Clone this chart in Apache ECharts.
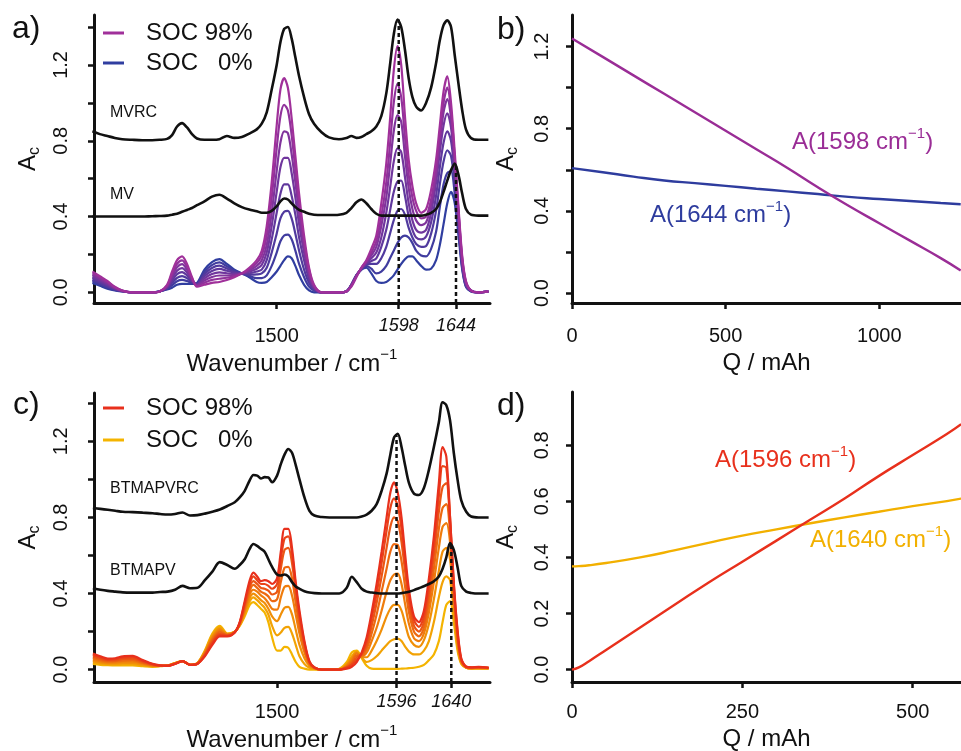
<!DOCTYPE html>
<html>
<head>
<meta charset="utf-8">
<script src="https://cdn.jsdelivr.net/npm/echarts@6.0.0/dist/echarts.min.js"></script>
<style>
  html, body { margin: 0; padding: 0; background: #fff; }
  #chart { width: 961px; height: 751px; }
</style>
</head>
<body>
<div id="chart"></div>
<script>
// ---- panel a) : MV spectra ----
const WN_A = [1352, 1358, 1364, 1370, 1376, 1384, 1392, 1400, 1406, 1412, 1416, 1420, 1424, 1428, 1432, 1436, 1442, 1448, 1454, 1460,
  1466, 1472, 1478, 1484, 1488, 1492, 1496, 1500, 1503, 1506, 1509, 1512, 1515, 1518, 1522, 1526, 1530, 1536, 1542, 1550,
  1556, 1560, 1564, 1568, 1572, 1576, 1580, 1584, 1588, 1591, 1594, 1597, 1600, 1603, 1606, 1609, 1612, 1616, 1620, 1624,
  1628, 1631, 1634, 1637, 1640, 1643, 1646, 1649, 1652, 1656, 1662, 1670];
const MVRC = [0.85, 0.835, 0.825, 0.815, 0.808, 0.805, 0.803, 0.803, 0.805, 0.81, 0.83, 0.875, 0.893, 0.87, 0.835, 0.812, 0.805, 0.805, 0.808, 0.825,
  0.815, 0.82, 0.838, 0.86, 0.89, 0.95, 1.07, 1.20, 1.32, 1.39, 1.40, 1.34, 1.24, 1.14, 1.03, 0.94, 0.89, 0.845, 0.818, 0.808,
  0.815, 0.825, 0.815, 0.82, 0.835, 0.85, 0.875, 0.93, 1.05, 1.20, 1.36, 1.44, 1.40, 1.28, 1.13, 1.03, 0.98, 0.96, 1.00, 1.08,
  1.21, 1.33, 1.41, 1.435, 1.40, 1.25, 1.10, 0.96, 0.86, 0.815, 0.805, 0.805];
const MV = [0.40, 0.40, 0.40, 0.40, 0.40, 0.40, 0.40, 0.402, 0.403, 0.405, 0.41, 0.415, 0.425, 0.435, 0.445, 0.46, 0.48, 0.505, 0.515, 0.495,
  0.47, 0.45, 0.437, 0.428, 0.42, 0.42, 0.43, 0.455, 0.48, 0.495, 0.49, 0.47, 0.45, 0.435, 0.425, 0.415, 0.41, 0.408, 0.408, 0.41,
  0.42, 0.445, 0.475, 0.49, 0.47, 0.44, 0.415, 0.405, 0.405, 0.405, 0.405, 0.405, 0.405, 0.405, 0.405, 0.405, 0.405, 0.405, 0.41, 0.42,
  0.44, 0.475, 0.53, 0.59, 0.645, 0.68, 0.62, 0.52, 0.44, 0.41, 0.405, 0.405];
// SOC 98% -> SOC 0%
const SPEC_A = [
  [0.11, 0.085, 0.06, 0.03, 0.01, 0, 0, 0, 0.005, 0.04, 0.11, 0.17, 0.19, 0.15, 0.08, 0.03, 0.04, 0.05, 0.055, 0.065,
   0.08, 0.10, 0.13, 0.17, 0.22, 0.35, 0.58, 0.88, 1.07, 1.13, 1.08, 0.92, 0.72, 0.52, 0.30, 0.13, 0.04, 0, 0, 0,
   0.005, 0.03, 0.08, 0.13, 0.17, 0.23, 0.30, 0.47, 0.68, 0.91, 1.17, 1.30, 1.20, 0.93, 0.70, 0.56, 0.47, 0.42, 0.44, 0.54,
   0.70, 0.88, 1.06, 1.14, 1.00, 0.74, 0.45, 0.19, 0.06, 0.01, 0, 0.005],
  [0.101, 0.078, 0.054, 0.027, 0.009, 0, 0, 0, 0.005, 0.036, 0.098, 0.151, 0.169, 0.135, 0.075, 0.033, 0.051, 0.066, 0.072, 0.077,
   0.086, 0.10, 0.123, 0.155, 0.195, 0.30, 0.50, 0.76, 0.93, 0.99, 0.96, 0.83, 0.65, 0.47, 0.27, 0.12, 0.035, 0, 0, 0,
   0.005, 0.035, 0.085, 0.13, 0.165, 0.21, 0.27, 0.40, 0.58, 0.78, 1.00, 1.10, 1.03, 0.82, 0.62, 0.50, 0.43, 0.39, 0.40, 0.49,
   0.65, 0.83, 1.00, 1.08, 0.96, 0.71, 0.43, 0.18, 0.055, 0.01, 0, 0.005],
  [0.093, 0.071, 0.049, 0.024, 0.008, 0, 0, 0, 0.005, 0.033, 0.086, 0.133, 0.149, 0.12, 0.07, 0.036, 0.063, 0.081, 0.089, 0.089,
   0.091, 0.10, 0.116, 0.14, 0.17, 0.25, 0.42, 0.64, 0.79, 0.85, 0.84, 0.73, 0.58, 0.42, 0.24, 0.10, 0.03, 0, 0, 0,
   0.005, 0.035, 0.085, 0.128, 0.16, 0.195, 0.24, 0.35, 0.50, 0.67, 0.85, 0.935, 0.90, 0.72, 0.55, 0.44, 0.38, 0.355, 0.37, 0.46,
   0.62, 0.79, 0.95, 1.02, 0.92, 0.69, 0.42, 0.17, 0.05, 0.01, 0, 0.005],
  [0.084, 0.064, 0.043, 0.021, 0.008, 0, 0, 0, 0.005, 0.029, 0.074, 0.114, 0.128, 0.105, 0.065, 0.039, 0.074, 0.097, 0.106, 0.101,
   0.097, 0.10, 0.109, 0.125, 0.145, 0.21, 0.35, 0.53, 0.66, 0.71, 0.71, 0.63, 0.50, 0.36, 0.21, 0.09, 0.025, 0, 0, 0,
   0.005, 0.04, 0.09, 0.125, 0.155, 0.18, 0.21, 0.29, 0.42, 0.55, 0.69, 0.76, 0.74, 0.61, 0.47, 0.38, 0.33, 0.315, 0.33, 0.42,
   0.58, 0.74, 0.88, 0.945, 0.87, 0.66, 0.40, 0.16, 0.045, 0.01, 0, 0.005],
  [0.076, 0.056, 0.037, 0.019, 0.007, 0, 0, 0, 0.005, 0.026, 0.061, 0.096, 0.107, 0.09, 0.06, 0.041, 0.086, 0.113, 0.124, 0.114,
   0.103, 0.10, 0.101, 0.11, 0.12, 0.17, 0.28, 0.42, 0.52, 0.57, 0.57, 0.51, 0.41, 0.29, 0.17, 0.07, 0.02, 0, 0, 0,
   0.005, 0.04, 0.09, 0.125, 0.15, 0.165, 0.18, 0.24, 0.33, 0.43, 0.53, 0.585, 0.59, 0.51, 0.40, 0.33, 0.29, 0.28, 0.295, 0.37,
   0.51, 0.66, 0.79, 0.85, 0.80, 0.62, 0.38, 0.15, 0.04, 0.008, 0, 0.005],
  [0.067, 0.049, 0.031, 0.016, 0.006, 0, 0, 0, 0.005, 0.022, 0.049, 0.077, 0.086, 0.075, 0.055, 0.044, 0.097, 0.129, 0.141, 0.126,
   0.109, 0.10, 0.094, 0.095, 0.10, 0.13, 0.21, 0.31, 0.39, 0.425, 0.43, 0.39, 0.31, 0.22, 0.12, 0.05, 0.015, 0, 0, 0,
   0.005, 0.04, 0.09, 0.122, 0.145, 0.15, 0.15, 0.18, 0.24, 0.31, 0.38, 0.43, 0.44, 0.41, 0.34, 0.29, 0.255, 0.24, 0.245, 0.31,
   0.43, 0.57, 0.69, 0.75, 0.72, 0.57, 0.35, 0.14, 0.035, 0.007, 0, 0.005],
  [0.059, 0.042, 0.026, 0.013, 0.006, 0, 0, 0, 0.005, 0.019, 0.037, 0.059, 0.066, 0.06, 0.05, 0.047, 0.109, 0.144, 0.158, 0.138,
   0.114, 0.10, 0.087, 0.075, 0.075, 0.09, 0.14, 0.21, 0.27, 0.30, 0.305, 0.28, 0.22, 0.15, 0.08, 0.03, 0.01, 0, 0, 0,
   0.005, 0.04, 0.09, 0.12, 0.14, 0.125, 0.10, 0.11, 0.14, 0.18, 0.22, 0.26, 0.29, 0.30, 0.29, 0.26, 0.22, 0.195, 0.19, 0.23,
   0.32, 0.45, 0.57, 0.63, 0.64, 0.52, 0.33, 0.13, 0.03, 0.006, 0, 0.005],
  [0.05, 0.035, 0.02, 0.01, 0.005, 0, 0, 0, 0.005, 0.015, 0.025, 0.04, 0.045, 0.045, 0.045, 0.05, 0.12, 0.16, 0.175, 0.15,
   0.12, 0.10, 0.08, 0.055, 0.05, 0.055, 0.08, 0.11, 0.14, 0.17, 0.19, 0.18, 0.14, 0.09, 0.04, 0.01, 0, 0, 0, 0,
   0.005, 0.04, 0.09, 0.12, 0.13, 0.10, 0.06, 0.05, 0.055, 0.07, 0.09, 0.12, 0.15, 0.175, 0.19, 0.19, 0.17, 0.14, 0.12, 0.125,
   0.17, 0.25, 0.36, 0.47, 0.53, 0.47, 0.30, 0.12, 0.03, 0.005, 0, 0.005]
];
const MARKS_A = [1598, 1644];
const MARK_TOPS_A = [1.44, 0.68];

// ---- panel c) : BTMAPV spectra ----
const WN_C = [1352, 1358, 1364, 1370, 1376, 1384, 1392, 1400, 1406, 1412, 1418, 1424, 1430, 1436, 1442, 1448, 1454, 1460, 1466, 1470,
  1474, 1478, 1481, 1484, 1487, 1490, 1493, 1496, 1500, 1503, 1506, 1509, 1512, 1515, 1518, 1522, 1526, 1530, 1536, 1542,
  1550, 1556, 1560, 1564, 1568, 1572, 1576, 1580, 1584, 1588, 1591, 1594, 1597, 1600, 1603, 1606, 1610, 1614, 1618, 1622,
  1626, 1630, 1633, 1636, 1639, 1642, 1645, 1648, 1652, 1656, 1662, 1670];
const BTMAPVRC = [0.85, 0.845, 0.84, 0.835, 0.83, 0.828, 0.825, 0.822, 0.818, 0.815, 0.818, 0.826, 0.81, 0.812, 0.82, 0.83, 0.842, 0.86, 0.88, 0.905,
  0.94, 0.995, 1.023, 1.02, 1.005, 1.012, 1.01, 0.985, 1.02, 1.08, 1.13, 1.16, 1.14, 1.075, 1.00, 0.905, 0.835, 0.81, 0.802, 0.80,
  0.80, 0.80, 0.80, 0.80, 0.805, 0.815, 0.835, 0.87, 0.94, 1.03, 1.13, 1.22, 1.24, 1.17, 1.07, 0.98, 0.925, 0.918, 0.955, 1.05,
  1.17, 1.30, 1.405, 1.39, 1.31, 1.14, 1.00, 0.89, 0.83, 0.805, 0.80, 0.80];
const BTMAPV = [0.428, 0.42, 0.414, 0.41, 0.406, 0.405, 0.405, 0.405, 0.408, 0.41, 0.42, 0.44, 0.428, 0.43, 0.47, 0.515, 0.565, 0.55, 0.53, 0.55,
  0.58, 0.635, 0.66, 0.65, 0.635, 0.62, 0.58, 0.54, 0.50, 0.495, 0.50, 0.49, 0.46, 0.437, 0.425, 0.412, 0.405, 0.402, 0.40, 0.40,
  0.40, 0.43, 0.488, 0.46, 0.425, 0.41, 0.405, 0.402, 0.40, 0.40, 0.40, 0.40, 0.40, 0.402, 0.405, 0.41, 0.418, 0.428, 0.438, 0.45,
  0.465, 0.49, 0.53, 0.59, 0.665, 0.63, 0.54, 0.44, 0.41, 0.403, 0.40, 0.40];
// SOC 98% -> SOC 0%
const SPEC_C = [
  [0.085, 0.07, 0.058, 0.06, 0.07, 0.072, 0.05, 0.03, 0.022, 0.02, 0.03, 0.045, 0.025, 0.03, 0.07, 0.13, 0.175, 0.175, 0.195, 0.25,
   0.36, 0.47, 0.51, 0.49, 0.465, 0.47, 0.465, 0.45, 0.48, 0.62, 0.74, 0.74, 0.64, 0.46, 0.31, 0.15, 0.045, 0.012, 0, 0,
   0, 0.005, 0.015, 0.04, 0.09, 0.17, 0.30, 0.45, 0.62, 0.80, 0.93, 0.985, 0.93, 0.80, 0.60, 0.42, 0.28, 0.25, 0.31, 0.48,
   0.70, 0.98, 1.17, 1.12, 0.80, 0.46, 0.21, 0.06, 0.015, 0.012, 0.014, 0.01],
  [0.077, 0.064, 0.053, 0.055, 0.063, 0.065, 0.045, 0.028, 0.021, 0.02, 0.031, 0.045, 0.025, 0.031, 0.074, 0.139, 0.183, 0.177, 0.196, 0.247,
   0.349, 0.451, 0.49, 0.47, 0.45, 0.45, 0.44, 0.425, 0.45, 0.58, 0.69, 0.70, 0.61, 0.44, 0.29, 0.14, 0.04, 0.011, 0, 0,
   0, 0.01, 0.025, 0.05, 0.085, 0.15, 0.27, 0.40, 0.56, 0.73, 0.85, 0.90, 0.86, 0.74, 0.56, 0.39, 0.26, 0.225, 0.28, 0.44,
   0.65, 0.91, 1.07, 1.06, 0.80, 0.45, 0.20, 0.055, 0.015, 0.012, 0.013, 0.01],
  [0.069, 0.057, 0.048, 0.049, 0.056, 0.058, 0.041, 0.026, 0.021, 0.021, 0.031, 0.045, 0.025, 0.031, 0.079, 0.147, 0.191, 0.179, 0.197, 0.244,
   0.337, 0.433, 0.465, 0.45, 0.43, 0.425, 0.415, 0.395, 0.41, 0.53, 0.63, 0.64, 0.56, 0.41, 0.27, 0.13, 0.038, 0.01, 0, 0,
   0, 0.012, 0.03, 0.065, 0.08, 0.13, 0.23, 0.35, 0.49, 0.64, 0.75, 0.80, 0.78, 0.67, 0.51, 0.35, 0.23, 0.20, 0.25, 0.40,
   0.60, 0.83, 0.96, 0.98, 0.77, 0.43, 0.18, 0.05, 0.014, 0.01, 0.012, 0.01],
  [0.061, 0.051, 0.043, 0.044, 0.049, 0.051, 0.036, 0.024, 0.02, 0.021, 0.032, 0.045, 0.025, 0.032, 0.083, 0.156, 0.199, 0.181, 0.197, 0.241,
   0.326, 0.414, 0.445, 0.43, 0.41, 0.40, 0.385, 0.36, 0.37, 0.46, 0.535, 0.54, 0.48, 0.35, 0.23, 0.11, 0.033, 0.009, 0, 0,
   0, 0.015, 0.04, 0.075, 0.075, 0.11, 0.19, 0.29, 0.41, 0.53, 0.62, 0.66, 0.655, 0.57, 0.43, 0.30, 0.20, 0.175, 0.22, 0.35,
   0.53, 0.74, 0.85, 0.87, 0.72, 0.41, 0.17, 0.048, 0.013, 0.01, 0.01, 0.01],
  [0.054, 0.044, 0.038, 0.038, 0.043, 0.043, 0.032, 0.021, 0.02, 0.021, 0.033, 0.045, 0.025, 0.033, 0.087, 0.164, 0.206, 0.184, 0.198, 0.239,
   0.314, 0.396, 0.42, 0.41, 0.39, 0.375, 0.35, 0.32, 0.315, 0.38, 0.435, 0.44, 0.39, 0.29, 0.19, 0.09, 0.028, 0.008, 0, 0,
   0, 0.02, 0.05, 0.085, 0.07, 0.09, 0.15, 0.22, 0.31, 0.41, 0.47, 0.50, 0.505, 0.45, 0.34, 0.24, 0.165, 0.15, 0.19, 0.30,
   0.46, 0.64, 0.75, 0.77, 0.67, 0.39, 0.16, 0.045, 0.012, 0.008, 0.01, 0.008],
  [0.046, 0.038, 0.033, 0.033, 0.036, 0.036, 0.027, 0.019, 0.019, 0.021, 0.034, 0.045, 0.025, 0.034, 0.091, 0.173, 0.214, 0.186, 0.199, 0.236,
   0.303, 0.377, 0.40, 0.385, 0.365, 0.35, 0.32, 0.28, 0.255, 0.29, 0.325, 0.33, 0.29, 0.21, 0.13, 0.06, 0.02, 0.006, 0, 0,
   0.002, 0.025, 0.06, 0.09, 0.065, 0.065, 0.10, 0.15, 0.21, 0.28, 0.32, 0.34, 0.34, 0.31, 0.24, 0.17, 0.13, 0.12, 0.155, 0.24,
   0.37, 0.52, 0.62, 0.64, 0.58, 0.35, 0.14, 0.04, 0.01, 0.007, 0.008, 0.007],
  [0.038, 0.031, 0.028, 0.027, 0.029, 0.029, 0.023, 0.017, 0.019, 0.022, 0.034, 0.045, 0.025, 0.034, 0.096, 0.181, 0.222, 0.188, 0.2, 0.233,
   0.291, 0.359, 0.38, 0.365, 0.345, 0.325, 0.29, 0.23, 0.18, 0.195, 0.22, 0.225, 0.19, 0.13, 0.07, 0.03, 0.01, 0.004, 0, 0,
   0.003, 0.03, 0.07, 0.095, 0.065, 0.04, 0.05, 0.07, 0.10, 0.13, 0.15, 0.16, 0.163, 0.15, 0.12, 0.095, 0.08, 0.08, 0.10, 0.15,
   0.25, 0.38, 0.46, 0.49, 0.47, 0.31, 0.12, 0.035, 0.01, 0.006, 0.006, 0.006],
  [0.03, 0.025, 0.023, 0.022, 0.022, 0.022, 0.018, 0.015, 0.018, 0.022, 0.035, 0.045, 0.025, 0.035, 0.10, 0.19, 0.23, 0.19, 0.2, 0.23,
   0.28, 0.34, 0.355, 0.34, 0.32, 0.30, 0.25, 0.17, 0.10, 0.10, 0.12, 0.115, 0.08, 0.04, 0.015, 0.005, 0, 0, 0, 0,
   0.005, 0.04, 0.09, 0.10, 0.06, 0.02, 0.005, 0.004, 0.004, 0.004, 0.004, 0.004, 0.004, 0.005, 0.006, 0.008, 0.01, 0.015, 0.025, 0.05,
   0.08, 0.15, 0.25, 0.34, 0.36, 0.25, 0.10, 0.03, 0.01, 0.005, 0.005, 0.005]
];
const MARKS_C = [1596, 1640];
const MARK_TOPS_C = [1.23, 0.67];

// ---- panel b) ----
const Q_B = [0, 100, 200, 300, 400, 500, 600, 700, 800, 900, 1000, 1100, 1200, 1265];
const A1598 = [1.24, 1.15, 1.06, 0.97, 0.88, 0.79, 0.70, 0.61, 0.515, 0.425, 0.34, 0.255, 0.17, 0.11];
const A1644 = [0.608, 0.588, 0.567, 0.548, 0.535, 0.522, 0.508, 0.495, 0.482, 0.468, 0.458, 0.448, 0.438, 0.432];

// ---- panel d) ----
const Q_D = [0, 10, 25, 50, 100, 150, 200, 250, 300, 350, 400, 450, 500, 550, 571];
const A1596 = [0.0, 0.008, 0.03, 0.07, 0.15, 0.23, 0.31, 0.385, 0.46, 0.535, 0.61, 0.69, 0.765, 0.84, 0.875];
const A1640 = [0.368, 0.369, 0.372, 0.38, 0.40, 0.425, 0.452, 0.478, 0.50, 0.522, 0.543, 0.563, 0.583, 0.601, 0.61];

// ticks
const WN_TICKS_A = [1500, 1598, 1644];
const WN_TICKS_C = [1500, 1596, 1640];
const AC_TICKS = [0, 0.2, 0.4, 0.6, 0.8, 1, 1.2, 1.4];
const AC_LABELS = [0, 0.4, 0.8, 1.2];
const B_TICKS = [0, 0.2, 0.4, 0.6, 0.8, 1, 1.2];
const B_LABELS = [0, 0.4, 0.8, 1.2];
const D_TICKS = [0, 0.2, 0.4, 0.6, 0.8];
const Q_TICKS_B = [0, 500, 1000];
const Q_TICKS_D = [0, 250, 500];

[MVRC, MV, ...SPEC_A].forEach(function (a, i) { if (a.length !== WN_A.length) throw new Error("A length " + i + ": " + a.length); });
[BTMAPVRC, BTMAPV, ...SPEC_C].forEach(function (a, i) { if (a.length !== WN_C.length) throw new Error("C length " + i + ": " + a.length); });

const FONT = "Liberation Sans, Arial, Helvetica, sans-serif";
const INK = "#111";
const COLORS_A = ["#A0309A", "#90329B", "#80349C", "#70369D", "#60389D", "#503A9E", "#403C9F", "#303EA0"];
const COLORS_C = ["#E8301C", "#EA4318", "#EB5614", "#ED6910", "#EF7C0C", "#F08F08", "#F2A204", "#F4B400"];
const MAGENTA = "#9A2D96", BLUE = "#2E3C9E", RED = "#E8301C", YELLOW = "#F2B000";

const chart = echarts.init(document.getElementById("chart"), null, { renderer: "canvas" });

function zip(xs, ys) {
  return xs.map(function (x, i) { return [x, ys[i]]; });
}

function lineSeries(gi, data, color, width, name, smooth) {
  return {
    type: "line",
    name: name,
    xAxisIndex: gi,
    yAxisIndex: gi,
    data: data,
    symbol: "none",
    showSymbol: false,
    smooth: smooth,
    silent: true,
    lineStyle: { color: color, width: width },
    itemStyle: { color: color },
  };
}

function dashSeries(gi, x, top, bottom) {
  return {
    type: "line",
    xAxisIndex: gi,
    yAxisIndex: gi,
    data: [[x, bottom], [x, top]],
    symbol: "none",
    silent: true,
    z: 5,
    lineStyle: { color: INK, width: 2.5, type: [4, 3] },
  };
}

const axisLine = { show: true, onZero: false, lineStyle: { color: INK, width: 3 } };
function tick(vals) {
  return { show: true, inside: false, length: 6, customValues: vals, lineStyle: { color: INK, width: 2.5 } };
}

function wnAxis(gi, min, max, ticks, marginIt, gapName) {
  return {
    gridIndex: gi, type: "value", min: min, max: max,
    axisLine: axisLine,
    axisTick: tick(ticks),
    splitLine: { show: false },
    axisLabel: {
      customValues: ticks,
      margin: marginIt,
      formatter: function (v) { return v === 1500 ? "{n|1500}" : "{i|" + v + "}"; },
      rich: {
        n: { fontSize: 20, color: INK, fontFamily: FONT, padding: [9, 0, 0, 0] },
        i: { fontSize: 18, color: INK, fontFamily: FONT, fontStyle: "italic" },
      },
    },
    name: "{t|Wavenumber / cm}{s|\u22121}",
    nameLocation: "middle",
    nameGap: gapName,
    nameMoveOverlap: false,
    nameTextStyle: {
      rich: {
        t: { fontSize: 24, lineHeight: 34, color: INK, fontFamily: FONT },
        s: { fontSize: 15, lineHeight: 15, color: INK, fontFamily: FONT, verticalAlign: "top" },
      },
    },
  };
}

function qAxis(gi, max, ticks, margin, gapName) {
  return {
    gridIndex: gi, type: "value", min: 0, max: max,
    axisLine: axisLine,
    axisTick: tick(ticks),
    splitLine: { show: false },
    axisLabel: {
      customValues: ticks, margin: margin, fontSize: 20, color: INK, fontFamily: FONT,
      formatter: function (v) { return String(v); },
    },
    name: "Q / mAh",
    nameLocation: "middle",
    nameGap: gapName,
    nameMoveOverlap: false,
    nameTextStyle: { fontSize: 24, color: INK, fontFamily: FONT },
  };
}

function acAxis(gi, min, max, ticks, labels, margin) {
  return {
    gridIndex: gi, type: "value", min: min, max: max,
    axisLine: axisLine,
    axisTick: tick(ticks),
    splitLine: { show: false },
    axisLabel: {
      customValues: labels, rotate: 90, margin: margin, fontSize: 20, color: INK, fontFamily: FONT,
      formatter: function (v) { return v.toFixed(1); },
    },
    name: "{a|A}{s|c}",
    nameLocation: "middle",
    nameRotate: 90,
    nameGap: 51,
    nameMoveOverlap: false,
    nameTextStyle: {
      rich: {
        a: { fontSize: 24, lineHeight: 30, color: INK, fontFamily: FONT },
        s: { fontSize: 16, lineHeight: 16, color: INK, fontFamily: FONT, verticalAlign: "bottom" },
      },
    },
  };
}

const series = [];
// spectra, SOC 0% drawn first so the 98% curve lies on top
for (let k = SPEC_A.length - 1; k >= 0; k--) {
  const nm = k === 0 ? "SOC 98%" : k === SPEC_A.length - 1 ? "SOC   0%" : "a" + k;
  series.push(lineSeries(0, zip(WN_A, SPEC_A[k]), COLORS_A[k], 2.2, nm, 0.3));
}
series.push(lineSeries(0, zip(WN_A, MV), INK, 2.6, "MV", 0.3));
series.push(lineSeries(0, zip(WN_A, MVRC), INK, 2.6, "MVRC", 0.3));
MARKS_A.forEach(function (x, i) { series.push(dashSeries(0, x, MARK_TOPS_A[i], -0.056)); });

for (let k = SPEC_C.length - 1; k >= 0; k--) {
  const nm = k === 0 ? "SOC 98%" : k === SPEC_C.length - 1 ? "SOC   0%" : "c" + k;
  series.push(lineSeries(2, zip(WN_C, SPEC_C[k]), COLORS_C[k], 2.2, nm, 0.3));
}
series.push(lineSeries(2, zip(WN_C, BTMAPV), INK, 2.6, "BTMAPV", 0.3));
series.push(lineSeries(2, zip(WN_C, BTMAPVRC), INK, 2.6, "BTMAPVRC", 0.3));
MARKS_C.forEach(function (x, i) { series.push(dashSeries(2, x, MARK_TOPS_C[i], -0.065)); });

series.push(lineSeries(1, zip(Q_B, A1644), BLUE, 2.4, "A1644", true));
series.push(lineSeries(1, zip(Q_B, A1598), MAGENTA, 2.4, "A1598", true));
series.push(lineSeries(3, zip(Q_D, A1640), YELLOW, 2.4, "A1640", true));
series.push(lineSeries(3, zip(Q_D, A1596), RED, 2.4, "A1596", true));

function legendItem(name, color) {
  return { name: name, icon: "rect", itemStyle: { color: color }, lineStyle: { color: color, width: 3 } };
}
function legend(top, gap, c98, c0) {
  return {
    left: 98, top: top, orient: "vertical", icon: "rect",
    itemWidth: 21, itemHeight: 3, itemGap: gap, selectedMode: false,
    textStyle: { fontSize: 24, color: INK, fontFamily: FONT, padding: [0, 0, 0, 17] },
    data: [legendItem("SOC 98%", c98), legendItem("SOC   0%", c0)],
  };
}

function txt(x, y, text, size, color, extra) {
  return {
    type: "text", x: x, y: y, silent: true, z: 10,
    style: Object.assign({ text: text, fill: color || INK, fontSize: size, fontFamily: FONT, verticalAlign: "middle", align: "left" }, extra || {}),
  };
}
function curveLabel(x, y, wn, color) {
  return txt(x, y, "{m|A(" + wn + " cm}{s|\u22121}{m|)}", 24, color, {
    rich: {
      m: { fontSize: 24, lineHeight: 32, fill: color, fontFamily: FONT },
      s: { fontSize: 15, lineHeight: 15, fill: color, fontFamily: FONT, verticalAlign: "top" },
    },
  });
}

const option = {
  animation: false,
  backgroundColor: "#fff",
  textStyle: { fontFamily: FONT },
  grid: [
    { left: 94, top: 15, width: 396, height: 288, outerBoundsMode: "none" },
    { left: 572, top: 15, width: 389, height: 288, outerBoundsMode: "none" },
    { left: 94, top: 393, width: 396, height: 289, outerBoundsMode: "none" },
    { left: 572, top: 392, width: 389, height: 290, outerBoundsMode: "none" },
  ],
  xAxis: [
    wnAxis(0, 1353.3, 1671.3, WN_TICKS_A, 14, 44),
    qAxis(1, 1266, Q_TICKS_B, 23, 48),
    wnAxis(2, 1352.9, 1671.1, WN_TICKS_C, 11, 41),
    qAxis(3, 570.8, Q_TICKS_D, 20, 45),
  ],
  yAxis: [
    acAxis(0, -0.056, 1.4635, AC_TICKS, AC_LABELS, 23),
    acAxis(1, -0.0487, 1.354, B_TICKS, B_LABELS, 20),
    acAxis(2, -0.065, 1.454, AC_TICKS, AC_LABELS, 23),
    acAxis(3, -0.0442, 0.99, D_TICKS, D_TICKS, 20),
  ],
  legend: [legend(16, 6, COLORS_A[0], COLORS_A[7]), legend(391, 8, COLORS_C[0], COLORS_C[7])],
  series: series,
  graphic: [
    txt(12, 29, "a)", 32),
    txt(497, 30, "b)", 32),
    txt(13, 405, "c)", 32),
    txt(497, 406, "d)", 32),
    txt(110, 113, "MVRC", 16),
    txt(110, 195, "MV", 16),
    txt(110, 489, "BTMAPVRC", 16),
    txt(110, 571, "BTMAPV", 16),
    curveLabel(792, 142, 1598, MAGENTA),
    curveLabel(650, 215, 1644, BLUE),
    curveLabel(715, 460, 1596, RED),
    curveLabel(810, 540, 1640, YELLOW),
  ],
};

chart.setOption(option);
window.addEventListener("resize", function () { chart.resize(); });
</script>
</body>
</html>
